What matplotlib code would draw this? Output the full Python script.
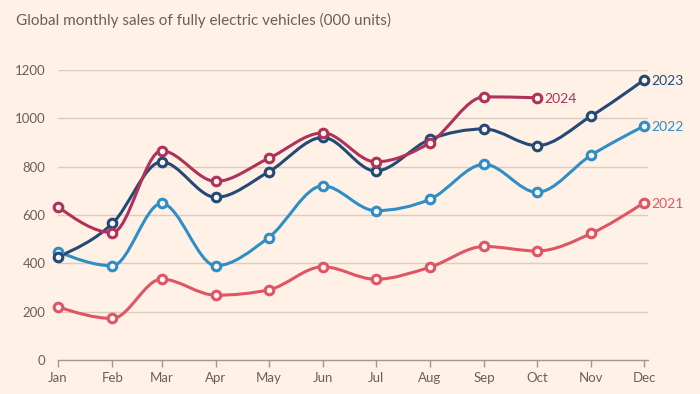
import datetime as dt

import matplotlib
matplotlib.use("Agg")
import matplotlib.pyplot as plt
import matplotlib.dates as mdates
from matplotlib.path import Path
from matplotlib.patches import PathPatch
import numpy as np


months = ["Jan", "Feb", "Mar", "Apr", "May", "Jun", "Jul", "Aug", "Sep", "Oct", "Nov", "Dec"]
sales_2021 = [220, 172, 335, 268, 290, 386, 334, 384, 470, 451, 524, 651]
sales_2022 = [448, 390, 648, 390, 506, 721, 618, 665, 810, 694, 848, 968]
sales_2023 = [427, 565, 820, 673, 778, 921, 782, 913, 956, 887, 1010, 1159]
sales_2024 = [634, 527, 866, 739, 834, 940, 820, 899, 1089, 1085]
y_ticks = [0, 200, 400, 600, 800, 1000, 1200]

BG = "#fff1e5"
TEXT = "#66605c"
GRID = "#d9ccc0"
AXIS = "#a09890"

series = [
    ("2021", sales_2021, "#e05563"),
    ("2022", sales_2022, "#2f8ec6"),
    ("2023", sales_2023, "#234a76"),
    ("2024", sales_2024, "#b0325a"),
]


def month_nums(n: int) -> np.ndarray:
    return np.array([mdates.date2num(dt.date(2021, m + 1, 1)) for m in range(n)])


def monotone_path(xs: np.ndarray, ys: np.ndarray) -> Path:
    # same shape as d3.curveMonotoneX
    n = len(xs)
    h = np.diff(xs)
    s = np.diff(ys) / h
    t = np.zeros(n)
    for i in range(1, n - 1):
        p = (s[i - 1] * h[i] + s[i] * h[i - 1]) / (h[i - 1] + h[i])
        t[i] = (np.sign(s[i - 1]) + np.sign(s[i])) * min(abs(s[i - 1]), abs(s[i]), 0.5 * abs(p))
    t[0] = (3 * s[0] - t[1]) / 2
    t[-1] = (3 * s[-1] - t[-2]) / 2
    verts = [(xs[0], ys[0])]
    codes = [Path.MOVETO]
    for i in range(n - 1):
        dx = h[i] / 3
        verts += [(xs[i] + dx, ys[i] + dx * t[i]),
                  (xs[i + 1] - dx, ys[i + 1] - dx * t[i + 1]),
                  (xs[i + 1], ys[i + 1])]
        codes += [Path.CURVE4] * 3
    return Path(verts, codes)


plt.rcParams["font.family"] = ["Lato", "DejaVu Sans"]

fig = plt.figure(figsize=(7, 3.94), dpi=100, facecolor=BG)
ax = fig.add_axes([58 / 700, 34 / 394, 590 / 700, 290 / 394])
ax.set_facecolor(BG)

x_all = month_nums(12)
ax.set_xlim(x_all[0], x_all[-1] + 2.3)
ax.set_ylim(0, 1200)

for yv in y_ticks[1:]:
    ax.axhline(yv, color=GRID, lw=1, zorder=1)

for label, vals, color in series:
    xs = month_nums(len(vals))
    ys = np.array(vals, dtype=float)
    ax.add_patch(PathPatch(monotone_path(xs, ys), fill=False, edgecolor=color,
                           lw=2.2, zorder=3, capstyle="round", clip_on=False))
    ax.plot(xs, ys, linestyle="none", marker="o", ms=6.2, mew=2.2,
            mec=color, mfc="#fdf5ee", zorder=4, clip_on=False)
    ax.annotate(label, (xs[-1], ys[-1]), xytext=(7, -1), textcoords="offset pixels",
                ha="left", va="center", color=color, fontsize=10)

for side in ["top", "right", "left"]:
    ax.spines[side].set_visible(False)
ax.spines["bottom"].set_color(AXIS)
ax.spines["bottom"].set_linewidth(1)

ax.set_xticks(x_all)
ax.set_xticklabels(months)
ax.set_yticks(y_ticks)
ax.set_yticklabels([str(v) for v in y_ticks])
ax.tick_params(axis="x", colors=AXIS, length=5, width=1, pad=4, labelsize=9.5, labelcolor=TEXT)
ax.tick_params(axis="y", length=0, pad=9, labelsize=9.5, labelcolor=TEXT)

fig.text(16 / 700, 1 - 20 / 394, "Global monthly sales of fully electric vehicles (000 units)",
         ha="left", va="center", color=TEXT, fontsize=11)

fig.savefig("out.png", dpi=100, facecolor=BG)
